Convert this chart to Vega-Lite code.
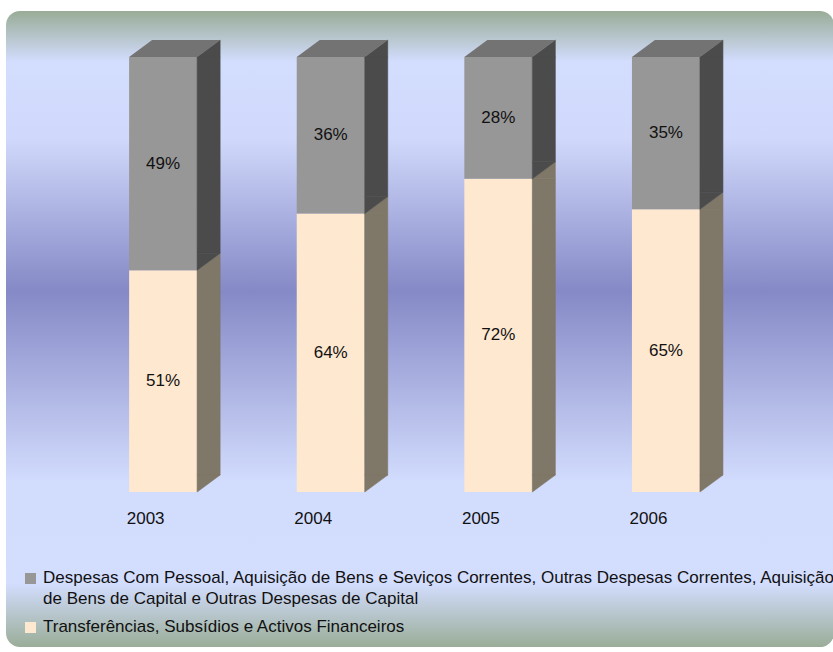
{
  "$schema": "https://vega.github.io/schema/vega-lite/v6.json",
  "width": 828,
  "height": 636,
  "autosize": "none",
  "padding": {"left": 6, "top": 11, "right": 0, "bottom": 5},
  "background": "white",
  "config": {
    "view": {"stroke": null},
    "font": "Liberation Sans"
  },
  "datasets": {
    "shares": [
      {"year": 2003, "serie": "Transferências, Subsídios e Activos Financeiros", "share": 0.51},
      {"year": 2003, "serie": "Despesas Com Pessoal, Aquisição de Bens e Seviços Correntes, Outras Despesas Correntes, Aquisição de Bens de Capital e Outras Despesas de Capital", "share": 0.49},
      {"year": 2004, "serie": "Transferências, Subsídios e Activos Financeiros", "share": 0.64},
      {"year": 2004, "serie": "Despesas Com Pessoal, Aquisição de Bens e Seviços Correntes, Outras Despesas Correntes, Aquisição de Bens de Capital e Outras Despesas de Capital", "share": 0.36},
      {"year": 2005, "serie": "Transferências, Subsídios e Activos Financeiros", "share": 0.72},
      {"year": 2005, "serie": "Despesas Com Pessoal, Aquisição de Bens e Seviços Correntes, Outras Despesas Correntes, Aquisição de Bens de Capital e Outras Despesas de Capital", "share": 0.28},
      {"year": 2006, "serie": "Transferências, Subsídios e Activos Financeiros", "share": 0.65},
      {"year": 2006, "serie": "Despesas Com Pessoal, Aquisição de Bens e Seviços Correntes, Outras Despesas Correntes, Aquisição de Bens de Capital e Outras Despesas de Capital", "share": 0.35}
    ]
  },
  "layer": [
    {
      "data": {"values": [{}]},
      "mark": {
        "type": "rect",
        "cornerRadius": 14,
        "stroke": null,
        "fill": {
          "gradient": "linear",
          "x1": 0, "y1": 0, "x2": 0, "y2": 1,
          "stops": [
            {"offset": 0, "color": "#99AC97"},
            {"offset": 0.08, "color": "#D3DDFE"},
            {"offset": 0.2, "color": "#D0D9FB"},
            {"offset": 0.44, "color": "#8589C6"},
            {"offset": 0.74, "color": "#D2DCFD"},
            {"offset": 0.9, "color": "#D3DDFE"},
            {"offset": 1, "color": "#9AAD98"}
          ]
        }
      },
      "encoding": {}
    },
    {
      "data": {"name": "shares"},
      "transform": [
        {"stack": "share", "groupby": ["year"], "sort": [{"field": "serie", "order": "descending"}], "as": ["lo", "hi"]}
      ],
      "encoding": {
        "x": {
          "field": "year",
          "type": "quantitative",
          "scale": {"domain": [2002.0924, 2006.9728], "nice": false, "zero": false},
          "axis": {
            "values": [2003, 2004, 2005, 2006],
            "format": "d",
            "labelOffset": -18,
            "domain": false,
            "ticks": false,
            "grid": false,
            "title": null,
            "labelFontSize": 17,
            "labelColor": "#111111",
            "labelPadding": 0,
            "offset": -137,
            "zindex": 2
          }
        }
      },
      "layer": [
        {
          "mark": {"type": "bar", "width": 68},
          "encoding": {
            "y": {"field": "hi", "type": "quantitative", "scale": {"domain": [-0.3563, 1.1058], "nice": false, "zero": false}, "axis": null},
            "y2": {"field": "lo"},
            "color": {
              "field": "serie",
              "type": "nominal",
              "scale": {
                "domain": ["Despesas Com Pessoal, Aquisição de Bens e Seviços Correntes, Outras Despesas Correntes, Aquisição de Bens de Capital e Outras Despesas de Capital", "Transferências, Subsídios e Activos Financeiros"],
                "range": ["#979797", "#FFE8D0"]
              },
              "legend": {
                "orient": "none",
                "legendX": 16,
                "legendY": 559,
                "title": null,
                "direction": "vertical",
                "symbolType": "square",
                "symbolSize": 121,
                "symbolStrokeWidth": 0,
                "symbolOpacity": 1,
                "labelFontSize": 17,
                "labelColor": "#111111",
                "labelLimit": 3000,
                "labelOffset": 4,
                "labelBaseline": "top",
                "rowPadding": 10,
                "padding": 0,
                "labelExpr": "datum.label == 'Transferências, Subsídios e Activos Financeiros' ? datum.label : ['Despesas Com Pessoal, Aquisição de Bens e Seviços Correntes, Outras Despesas Correntes, Aquisição', 'de Bens de Capital e Outras Despesas de Capital']",
                "encode": {"labels": {"update": {"lineHeight": {"value": 21}, "dy": {"value": -9}}}}
              }
            }
          }
        },
        {
          "mark": {"type": "bar", "width": 23, "xOffset": 45.5, "y2Offset": -17, "strokeWidth": 0.6},
          "encoding": {
            "y": {"field": "hi", "type": "quantitative", "scale": {"domain": [-0.3563, 1.1058], "nice": false, "zero": false}, "axis": null},
            "y2": {"field": "lo"},
            "color": {"condition": {"test": "datum.serie == 'Transferências, Subsídios e Activos Financeiros'", "value": "#7F7767"}, "value": "#4B4B4B"},
            "stroke": {"condition": {"test": "datum.serie == 'Transferências, Subsídios e Activos Financeiros'", "value": "#7F7767"}, "value": "#4B4B4B"}
          }
        },
        {
          "mark": {"type": "point", "shape": "M34,0L57,-17L57,0Z", "size": 4, "filled": true, "opacity": 1, "strokeWidth": 0.6},
          "encoding": {
            "y": {"field": "hi", "type": "quantitative", "scale": {"domain": [-0.3563, 1.1058], "nice": false, "zero": false}, "axis": null},
            "color": {"condition": {"test": "datum.serie == 'Transferências, Subsídios e Activos Financeiros'", "value": "#7F7767"}, "value": "#4B4B4B"},
            "stroke": {"condition": {"test": "datum.serie == 'Transferências, Subsídios e Activos Financeiros'", "value": "#7F7767"}, "value": "#4B4B4B"}
          }
        },
        {
          "mark": {"type": "point", "shape": "M34,0L34,-17L57,-17Z", "size": 4, "filled": true, "opacity": 1, "strokeWidth": 0.6},
          "encoding": {
            "y": {"field": "lo", "type": "quantitative", "scale": {"domain": [-0.3563, 1.1058], "nice": false, "zero": false}, "axis": null},
            "color": {"condition": {"test": "datum.serie == 'Transferências, Subsídios e Activos Financeiros'", "value": "#7F7767"}, "value": "#4B4B4B"},
            "stroke": {"condition": {"test": "datum.serie == 'Transferências, Subsídios e Activos Financeiros'", "value": "#7F7767"}, "value": "#4B4B4B"}
          }
        },
        {
          "transform": [{"filter": "datum.serie != 'Transferências, Subsídios e Activos Financeiros'"}],
          "mark": {"type": "point", "shape": "M-34,0L34,0L57,-17L-11,-17Z", "size": 4, "filled": true, "opacity": 1, "strokeWidth": 0, "color": "#737373"},
          "encoding": {
            "y": {"field": "hi", "type": "quantitative", "scale": {"domain": [-0.3563, 1.1058], "nice": false, "zero": false}, "axis": null}
          }
        },
        {
          "transform": [{"fold": ["lo", "hi"], "as": ["edge", "pos"]}],
          "mark": {"type": "text", "fontSize": 17, "color": "#111111", "baseline": "middle", "align": "center"},
          "encoding": {
            "y": {"field": "pos", "aggregate": "mean", "type": "quantitative", "scale": {"domain": [-0.3563, 1.1058], "nice": false, "zero": false}, "axis": null},
            "text": {"field": "share", "type": "quantitative", "format": ".0%"},
            "detail": {"field": "serie", "type": "nominal"}
          }
        }
      ]
    }
  ]
}
